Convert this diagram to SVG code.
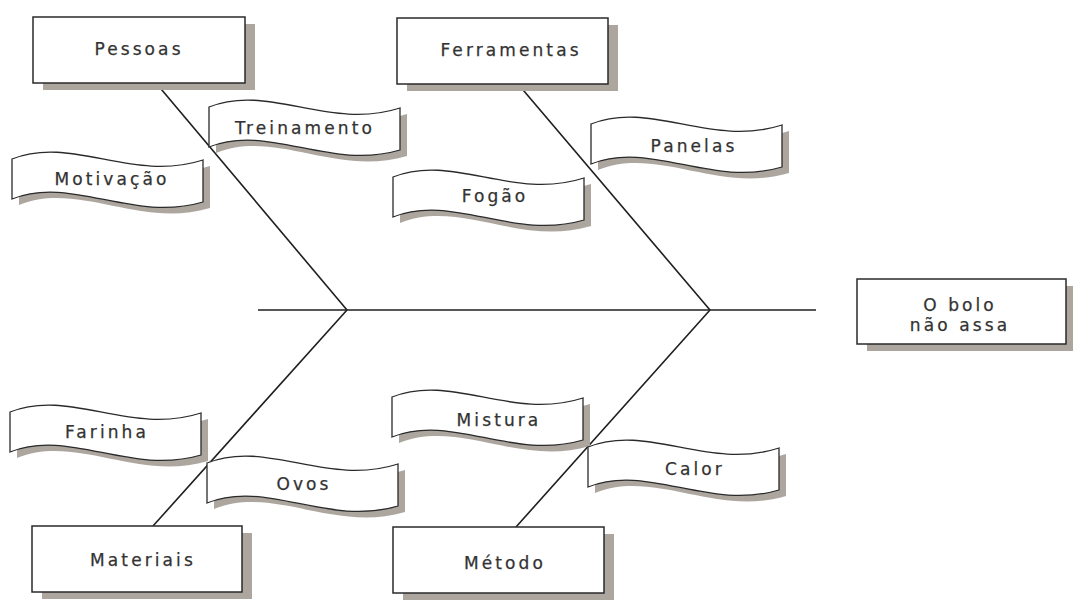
<svg xmlns="http://www.w3.org/2000/svg" xmlns:xlink="http://www.w3.org/1999/xlink" width="1073" height="610" viewBox="0 0 1073 610">
<style>
.bg{fill:#ffffff}
.box{fill:#ffffff;stroke:#2a2a2a;stroke-width:1.5}
.shadow{fill:#aca69f}
.flag{fill:#ffffff;stroke:#2a2a2a;stroke-width:1.3}
.fshadow{fill:#aca69f}
.bone{stroke:#1e1e1e;stroke-width:1.6;fill:none}
text{font-family:"DejaVu Sans","Liberation Sans",Arial,sans-serif;font-size:17px;fill:#333333;stroke:#333333;stroke-width:0.25;letter-spacing:3.1px;text-anchor:middle}
</style>
<defs>
<path id="flagShape" d="M0,0 C60,-24 120,24 191,1 L191,43 C120,64 60,16 0,40 Z"/>
</defs>
<rect class="bg" x="0" y="0" width="1073" height="610"/>
<g id="connectors">
<line class="bone" x1="258" y1="310" x2="816" y2="310"/>
<line class="bone" x1="156" y1="83" x2="347" y2="310"/>
<line class="bone" x1="153" y1="526" x2="347" y2="310"/>
<line class="bone" x1="518" y1="84" x2="710" y2="310"/>
<line class="bone" x1="516" y1="527" x2="710" y2="310"/>
</g>
<g id="pessoas">
<rect class="shadow" x="43" y="24" width="212" height="66"/>
<rect class="box" x="33" y="17" width="212" height="66"/>
<text x="139" y="55">Pessoas</text>
</g>
<g id="ferramentas">
<rect class="shadow" x="407" y="25" width="211" height="66"/>
<rect class="box" x="397" y="18" width="211" height="66"/>
<text x="511" y="56">Ferramentas</text>
</g>
<g id="materiais">
<rect class="shadow" x="42" y="533" width="210" height="66"/>
<rect class="box" x="32" y="526" width="210" height="66"/>
<text x="143" y="566">Materiais</text>
</g>
<g id="metodo">
<rect class="shadow" x="403" y="534" width="211" height="66"/>
<rect class="box" x="393" y="527" width="211" height="66"/>
<text x="505" y="569">Método</text>
</g>
<g id="efeito">
<rect class="shadow" x="867" y="286" width="209" height="65"/>
<rect class="box" x="857" y="279" width="209" height="65"/>
<text x="960" y="311">O bolo</text>
<text x="960" y="331">não assa</text>
</g>
<g id="treinamento">
<use xlink:href="#flagShape" class="fshadow" transform="translate(216,113)"/>
<use xlink:href="#flagShape" class="flag" transform="translate(209,107)"/>
<text x="305" y="134">Treinamento</text>
</g>
<g id="motivacao">
<use xlink:href="#flagShape" class="fshadow" transform="translate(19,165)"/>
<use xlink:href="#flagShape" class="flag" transform="translate(12,159)"/>
<text x="112" y="185">Motivação</text>
</g>
<g id="panelas">
<use xlink:href="#flagShape" class="fshadow" transform="translate(598,130)"/>
<use xlink:href="#flagShape" class="flag" transform="translate(591,124)"/>
<text x="694" y="152">Panelas</text>
</g>
<g id="fogao">
<use xlink:href="#flagShape" class="fshadow" transform="translate(400,183)"/>
<use xlink:href="#flagShape" class="flag" transform="translate(393,177)"/>
<text x="495" y="202">Fogão</text>
</g>
<g id="farinha">
<use xlink:href="#flagShape" class="fshadow" transform="translate(17,418)"/>
<use xlink:href="#flagShape" class="flag" transform="translate(10,412)"/>
<text x="107" y="438">Farinha</text>
</g>
<g id="ovos">
<use xlink:href="#flagShape" class="fshadow" transform="translate(214,469)"/>
<use xlink:href="#flagShape" class="flag" transform="translate(207,463)"/>
<text x="304" y="490">Ovos</text>
</g>
<g id="mistura">
<use xlink:href="#flagShape" class="fshadow" transform="translate(399,403)"/>
<use xlink:href="#flagShape" class="flag" transform="translate(392,397)"/>
<text x="499" y="426">Mistura</text>
</g>
<g id="calor">
<use xlink:href="#flagShape" class="fshadow" transform="translate(595,453)"/>
<use xlink:href="#flagShape" class="flag" transform="translate(588,447)"/>
<text x="695" y="475">Calor</text>
</g>
</svg>
